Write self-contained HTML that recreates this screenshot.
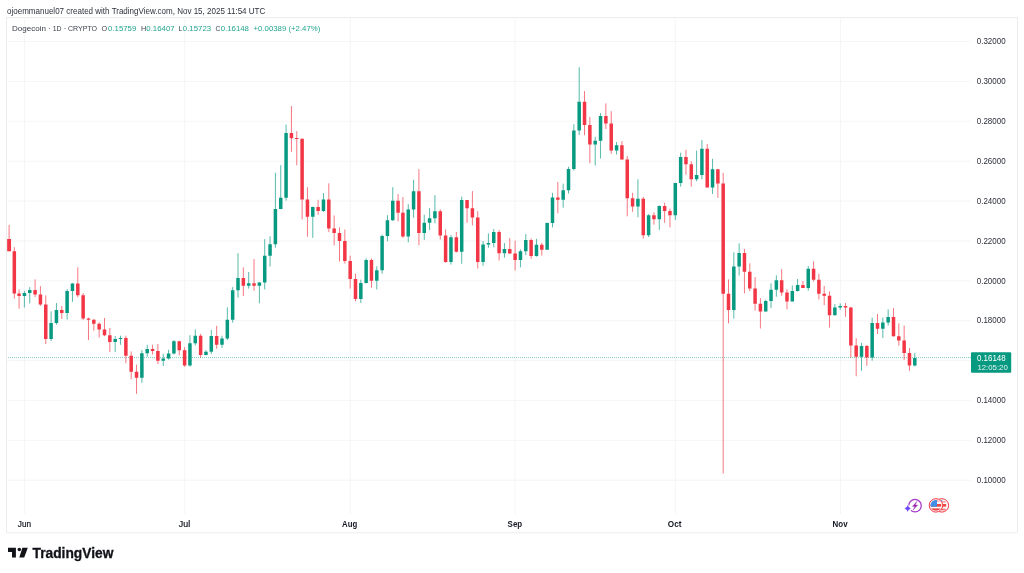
<!DOCTYPE html>
<html lang="en">
<head>
<meta charset="utf-8">
<title>Dogecoin 1D CRYPTO - TradingView</title>
<style>
html,body{margin:0;padding:0;background:#fff;}
body{width:1024px;height:573px;overflow:hidden;position:relative;font-family:'Liberation Sans', sans-serif;}
svg{position:absolute;left:0;top:0;display:block;}
text{font-family:'Liberation Sans', sans-serif;}
.ax{font-size:8.6px;fill:#2a2e39;}
.lg{font-size:7.5px;fill:#3a3e49;}
.lv{font-size:7.5px;fill:#089981;fill-opacity:0.9;}
.mo{font-size:8.3px;fill:#131722;stroke:#131722;stroke-width:0.2px;}
.mb{font-size:8.4px;fill:#131722;font-weight:bold;}
</style>
</head>
<body>
<svg width="1024" height="573" viewBox="0 0 1024 573">
<rect x="0" y="0" width="1024" height="573" fill="#ffffff"/>
<text x="7" y="13.7" font-size="8.2" fill="#2e323d" textLength="258.3" lengthAdjust="spacingAndGlyphs">ojoemmanuel07 created with TradingView.com, Nov 15, 2025 11:54 UTC</text>
<rect x="6.5" y="17.6" width="1011" height="515.2" fill="#ffffff" stroke="#ebebed" stroke-width="0.9"/>
<path d="M7 41.55H970.5M7 81.43H970.5M7 121.31H970.5M7 161.19H970.5M7 201.07H970.5M7 240.95H970.5M7 280.83H970.5M7 320.71H970.5M7 360.59H970.5M7 400.47H970.5M7 440.35H970.5M7 480.23H970.5M24.4 18V514M184.7 18V514M350.3 18V514M515 18V514M675.3 18V514M840.5 18V514" stroke="#f0f1f3" stroke-width="0.75" fill="none"/>
<path d="M8 357.6H971" stroke="#089981" stroke-width="1" stroke-dasharray="1 1" opacity="0.52" fill="none"/>
<path d="M24.4 290.9V307.5M29.74 287.1V303.4M51.1 311.4V340.9M56.44 303V324.7M67.12 289V319.6M72.46 283.1V301.9M115.18 336V351.9M120.52 335.7V344.8M141.88 350.1V382.8M147.22 344.8V356.9M163.24 353.8V366M168.58 349.8V359.6M173.92 340.1V354.5M189.94 335.2V366.6M195.28 329.4V345.4M205.96 350.1V355.3M211.31 330V354.1M221.99 335.7V347.9M227.33 307.3V340.1M232.67 287.1V322.7M238.01 253.2V297.6M248.7 272V288.6M259.38 281.9V303.4M264.72 239.1V289.4M270.06 236.2V266.5M275.4 172.8V247.7M280.74 165.2V209.2M286.08 124.5V200.6M312.79 206.6V237.8M323.47 193.2V212.1M360.83 279.6V303M366.15 258.3V283.4M376.79 266.3V289.4M382.11 234.7V273.7M387.44 215.1V241.3M392.76 187.2V221M408.25 204.2V242.3M413.58 179.8V217.8M424.25 214.7V239.9M429.58 208.1V230M434.91 195.2V223.3M450.97 235V264.6M461.7 196.6V263.8M483.08 241V265.8M488.42 233.4V247.8M493.76 229V247.3M504.44 243.1V257.7M520.45 249.4V267.4M525.79 234.1V255.2M536.47 238.8V256.7M547.15 222.4V249.7M552.49 192.8V227.4M563.17 183.6V207.7M568.51 166.8V193.5M573.85 124.2V170.5M579.19 67.2V135M595.21 136.8V165.5M600.55 113.1V158.5M616.57 142V154.5M637.93 179.3V217.3M648.61 214.1V237.1M659.29 205.4V229.9M675.31 182.8V220M680.65 152.7V186.7M696.6 150.6V181.3M701.91 139.9V179.3M712.55 158.8V194M733.82 252.3V318.6M739.14 243.3V275.5M765.72 299.7V311.5M771.04 283.4V308M776.36 275.3V296.7M792.31 285.5V301.4M797.62 279V291.5M808.26 266.1V290.7M834.86 304.1V315.4M840.19 303.3V309.8M861.51 342.9V370.8M872.17 317.5V360.6M882.83 317.5V337.9M888.16 309.3V325.6M914.81 352.9V366.5" stroke="#089981" stroke-width="0.68" fill="none"/>
<path d="M9.1 224.9V251.4M14.33 247.2V298.6M19.07 289.5V308.7M35.08 279.4V297M40.42 286.2V305.9M45.76 295.4V344.1M61.78 305.9V318.9M77.8 267.3V297.3M83.14 293.2V320M88.48 317.7V340.1M93.82 319.2V330.7M99.16 322.4V337.6M104.5 318V336.2M109.84 328V352M125.86 335.7V363.2M131.2 351.4V379.3M136.54 364.7V393.8M152.56 344.7V354.5M157.9 344V364M179.26 340.7V355.3M184.6 347.2V366.8M200.62 333.8V357.7M216.65 325.9V348.7M243.35 267.4V296M254.04 259V290.8M291.43 106V151.8M296.77 131.1V165.2M302.11 138.6V219.5M307.45 187.3V236.7M318.13 199.8V214.7M328.82 183.3V232M334.16 215.5V245.4M339.5 227.3V261.5M344.84 229.5V263.6M350.18 255.6V288.5M355.5 273.6V301.3M371.47 258.5V287.8M398.08 194V221.4M402.91 197.1V237.9M418.91 169.2V245.1M440.25 209.3V239.6M445.61 229.5V262.7M456.34 232V252.5M467.06 199.9V222.7M472.4 191.1V225.4M477.74 211.2V268.5M499.1 230V260.5M509.77 238.1V253.8M515.11 240.7V270.6M531.13 238.4V258.8M541.81 242.8V255.6M557.83 182V213.3M584.53 91.1V135.2M589.87 117V163.2M605.89 103.4V129M611.23 111.2V153.8M621.91 141.1V159.7M627.25 156.1V216.4M632.59 192.8V211.8M643.27 197V238.5M653.95 212.3V224.7M664.63 202.7V222.8M669.97 208.7V227.5M685.96 149.8V174.7M691.28 161.3V186.7M707.23 143.9V187.5M717.87 168.8V197.8M723.18 172.9V473.5M728.5 279.4V323.3M744.45 248.8V293.4M749.77 263.3V291.2M755.09 277.1V310.7M760.4 298.1V328.5M781.67 269.2V295.8M786.99 289.2V309.3M802.94 281V287.9M813.58 261.4V281.6M818.89 273.9V299.4M824.21 286V305.2M829.53 291.4V327.5M845.52 302.9V316.7M850.85 307V357.8M856.18 338.2V376.3M866.84 344.9V365.8M877.5 314V334M893.49 308V336.6M898.82 323.4V345.7M904.15 325.6V359.9M909.48 348.1V370.8" stroke="#f23645" stroke-width="0.68" fill="none"/>
<path d="M22.65 293.1h3.5V296h-3.5zM27.99 290h3.5V293.1h-3.5zM49.35 323.05h3.5V338.9h-3.5zM54.69 309.95h3.5V323.05h-3.5zM65.37 291h3.5V313h-3.5zM70.71 283.5h3.5V291h-3.5zM113.43 338.9h3.5V342h-3.5zM118.77 337.9h3.5V338.9h-3.5zM140.13 353.2h3.5V377.8h-3.5zM145.47 348.9h3.5V353.2h-3.5zM161.49 358.5h3.5V360.8h-3.5zM166.83 353.4h3.5V358.5h-3.5zM172.17 341.35h3.5V353.4h-3.5zM188.19 343.3h3.5V365.5h-3.5zM193.53 335.85h3.5V343.3h-3.5zM204.21 351.65h3.5V354.9h-3.5zM209.56 336h3.5V351.65h-3.5zM220.24 338.45h3.5V344.8h-3.5zM225.58 319.8h3.5V338.45h-3.5zM230.92 290.3h3.5V319.8h-3.5zM236.26 278h3.5V290.3h-3.5zM246.95 283.3h3.5V285.8h-3.5zM257.63 282.45h3.5V285.8h-3.5zM262.97 255.65h3.5V282.45h-3.5zM268.31 244.2h3.5V255.65h-3.5zM273.65 209.05h3.5V244.2h-3.5zM278.99 197.7h3.5V209.05h-3.5zM284.33 133.1h3.5V197.7h-3.5zM311.04 207.05h3.5V216.8h-3.5zM321.72 199.4h3.5V211.1h-3.5zM359.08 283h3.5V299h-3.5zM364.4 259.9h3.5V283h-3.5zM375.04 270.35h3.5V280.7h-3.5zM380.36 236.1h3.5V270.35h-3.5zM385.69 220.3h3.5V236.1h-3.5zM391.01 200.7h3.5V220.3h-3.5zM406.5 209.5h3.5V236.6h-3.5zM411.83 191.3h3.5V209.5h-3.5zM422.5 222.85h3.5V232.9h-3.5zM427.83 218.3h3.5V222.85h-3.5zM433.16 211.2h3.5V218.3h-3.5zM449.22 237.3h3.5V261.9h-3.5zM459.95 199.9h3.5V251.85h-3.5zM481.33 244.4h3.5V261.9h-3.5zM486.67 243.1h3.5V244.4h-3.5zM492.01 232h3.5V243.1h-3.5zM502.69 248.9h3.5V253.3h-3.5zM518.7 251.3h3.5V259.9h-3.5zM524.04 239.9h3.5V251.3h-3.5zM534.72 244.7h3.5V256.05h-3.5zM545.4 222.9h3.5V249.7h-3.5zM550.74 197.4h3.5V222.9h-3.5zM561.42 190.3h3.5V199.8h-3.5zM566.76 169.1h3.5V190.3h-3.5zM572.1 130.4h3.5V169.1h-3.5zM577.44 101.8h3.5V130.4h-3.5zM593.46 140.8h3.5V144.6h-3.5zM598.8 115.9h3.5V140.8h-3.5zM614.82 145.35h3.5V150.6h-3.5zM636.18 198.85h3.5V206.5h-3.5zM646.86 215.35h3.5V235.3h-3.5zM657.54 206h3.5V219.3h-3.5zM673.56 183.05h3.5V215.3h-3.5zM678.9 156.9h3.5V183.05h-3.5zM694.85 175.05h3.5V179.3h-3.5zM700.16 148.7h3.5V175.05h-3.5zM710.8 169.3h3.5V187.4h-3.5zM732.07 266.5h3.5V309.9h-3.5zM737.39 253.1h3.5V266.5h-3.5zM763.97 300.9h3.5V311.5h-3.5zM769.29 289.7h3.5V300.9h-3.5zM774.61 280.2h3.5V289.7h-3.5zM790.56 291.1h3.5V301.4h-3.5zM795.87 285.05h3.5V291.1h-3.5zM806.51 268.8h3.5V287.9h-3.5zM833.11 307.6h3.5V315.3h-3.5zM838.44 305.9h3.5V307.6h-3.5zM859.76 346h3.5V356.7h-3.5zM870.42 323h3.5V357.5h-3.5zM881.08 322.6h3.5V328.8h-3.5zM886.41 317h3.5V322.6h-3.5zM913.06 358h3.5V365.6h-3.5z" fill="#089981"/>
<path d="M7.15 238.9h3.9V251.25h-3.9zM12.58 251.25h3.5V293.45h-3.5zM17.32 293.45h3.5V296h-3.5zM33.33 290h3.5V294.45h-3.5zM38.67 294.45h3.5V304.55h-3.5zM44.01 304.55h3.5V338.9h-3.5zM60.03 309.95h3.5V313h-3.5zM76.05 283.5h3.5V295.2h-3.5zM81.39 295.2h3.5V318.45h-3.5zM86.73 318.45h3.5V319.75h-3.5zM92.07 319.75h3.5V323.75h-3.5zM97.41 323.75h3.5V329.5h-3.5zM102.75 329.5h3.5V335.25h-3.5zM108.09 335.25h3.5V342h-3.5zM124.11 337.9h3.5V355.85h-3.5zM129.45 355.85h3.5V371.65h-3.5zM134.79 371.65h3.5V377.8h-3.5zM150.81 348.9h3.5V351.05h-3.5zM156.15 351.05h3.5V360.8h-3.5zM177.51 341.35h3.5V350.35h-3.5zM182.85 350.35h3.5V365.5h-3.5zM198.87 335.85h3.5V354.9h-3.5zM214.9 336h3.5V344.8h-3.5zM241.6 278h3.5V285.8h-3.5zM252.29 283.3h3.5V285.8h-3.5zM289.68 133.1h3.5V138.25h-3.5zM295.02 138.08h3.5V138.97h-3.5zM300.36 138.8h3.5V199.4h-3.5zM305.7 199.4h3.5V216.8h-3.5zM316.38 207.05h3.5V211.1h-3.5zM327.07 199.4h3.5V228.5h-3.5zM332.41 228.5h3.5V232.95h-3.5zM337.75 232.95h3.5V241.1h-3.5zM343.09 241.1h3.5V261h-3.5zM348.43 261h3.5V278.9h-3.5zM353.75 278.9h3.5V299h-3.5zM369.72 259.9h3.5V280.7h-3.5zM396.33 200.7h3.5V212.8h-3.5zM401.16 212.8h3.5V236.6h-3.5zM417.16 191.3h3.5V232.9h-3.5zM438.5 211.2h3.5V235.6h-3.5zM443.86 235.6h3.5V261.9h-3.5zM454.59 237.3h3.5V251.85h-3.5zM465.31 199.9h3.5V208.25h-3.5zM470.65 208.25h3.5V217.5h-3.5zM475.99 217.5h3.5V261.9h-3.5zM497.35 232h3.5V253.3h-3.5zM508.02 248.9h3.5V253.55h-3.5zM513.36 253.55h3.5V259.9h-3.5zM529.38 239.9h3.5V256.05h-3.5zM540.06 244.7h3.5V249.7h-3.5zM556.08 197.4h3.5V199.8h-3.5zM582.78 101.8h3.5V125h-3.5zM588.12 125h3.5V144.6h-3.5zM604.14 115.9h3.5V123.55h-3.5zM609.48 123.55h3.5V150.6h-3.5zM620.16 145.35h3.5V159.45h-3.5zM625.5 159.45h3.5V198.3h-3.5zM630.84 198.3h3.5V206.5h-3.5zM641.52 198.85h3.5V235.3h-3.5zM652.2 215.35h3.5V219.3h-3.5zM662.88 206h3.5V211h-3.5zM668.22 211h3.5V215.3h-3.5zM684.21 156.9h3.5V164.35h-3.5zM689.53 164.35h3.5V179.3h-3.5zM705.48 148.7h3.5V187.4h-3.5zM716.12 169.3h3.5V183.55h-3.5zM721.43 183.55h3.5V293.65h-3.5zM726.75 293.65h3.5V309.9h-3.5zM742.7 253.1h3.5V271.65h-3.5zM748.02 271.65h3.5V288.45h-3.5zM753.34 288.45h3.5V303.7h-3.5zM758.65 303.7h3.5V311.5h-3.5zM779.92 280.2h3.5V292.55h-3.5zM785.24 292.55h3.5V301.4h-3.5zM801.19 285.05h3.5V287.9h-3.5zM811.83 268.8h3.5V279.75h-3.5zM817.14 279.75h3.5V293.75h-3.5zM822.46 293.75h3.5V295.7h-3.5zM827.78 295.7h3.5V315.3h-3.5zM843.77 305.9h3.5V307.55h-3.5zM849.1 307.55h3.5V345.55h-3.5zM854.43 345.55h3.5V356.7h-3.5zM865.09 346h3.5V357.5h-3.5zM875.75 323h3.5V328.8h-3.5zM891.74 317h3.5V336.3h-3.5zM897.07 336.3h3.5V340.45h-3.5zM902.4 340.45h3.5V353.05h-3.5zM907.73 353.05h3.5V365.6h-3.5z" fill="#f23645"/>
<text x="12" y="31.25" class="lg" textLength="34" lengthAdjust="spacingAndGlyphs">Dogecoin</text>
<text x="49.2" y="31.25" class="lg" text-anchor="middle">·</text>
<text x="52.7" y="31.25" class="lg" textLength="8.8" lengthAdjust="spacingAndGlyphs">1D</text>
<text x="65.1" y="31.25" class="lg" text-anchor="middle">·</text>
<text x="67.9" y="31.25" class="lg" textLength="29.2" lengthAdjust="spacingAndGlyphs">CRYPTO</text>
<text x="101.6" y="31.25" class="lg" textLength="5.6" lengthAdjust="spacingAndGlyphs">O</text>
<text x="108" y="31.25" class="lv" textLength="28.3" lengthAdjust="spacingAndGlyphs">0.15759</text>
<text x="141" y="31.25" class="lg" textLength="5.2" lengthAdjust="spacingAndGlyphs">H</text>
<text x="146.3" y="31.25" class="lv" textLength="28.3" lengthAdjust="spacingAndGlyphs">0.16407</text>
<text x="178.6" y="31.25" class="lg" textLength="3.8" lengthAdjust="spacingAndGlyphs">L</text>
<text x="182.8" y="31.25" class="lv" textLength="28.3" lengthAdjust="spacingAndGlyphs">0.15723</text>
<text x="215.6" y="31.25" class="lg" textLength="4.8" lengthAdjust="spacingAndGlyphs">C</text>
<text x="220.7" y="31.25" class="lv" textLength="28.3" lengthAdjust="spacingAndGlyphs">0.16148</text>
<text x="253.5" y="31.25" class="lv" textLength="66.8" lengthAdjust="spacingAndGlyphs">+0.00389 (+2.47%)</text>
<text x="976.8" y="44.4" class="ax" textLength="28.8" lengthAdjust="spacingAndGlyphs">0.32000</text>
<text x="976.8" y="84.26" class="ax" textLength="28.8" lengthAdjust="spacingAndGlyphs">0.30000</text>
<text x="976.8" y="124.12" class="ax" textLength="28.8" lengthAdjust="spacingAndGlyphs">0.28000</text>
<text x="976.8" y="163.98" class="ax" textLength="28.8" lengthAdjust="spacingAndGlyphs">0.26000</text>
<text x="976.8" y="203.84" class="ax" textLength="28.8" lengthAdjust="spacingAndGlyphs">0.24000</text>
<text x="976.8" y="243.7" class="ax" textLength="28.8" lengthAdjust="spacingAndGlyphs">0.22000</text>
<text x="976.8" y="283.56" class="ax" textLength="28.8" lengthAdjust="spacingAndGlyphs">0.20000</text>
<text x="976.8" y="323.42" class="ax" textLength="28.8" lengthAdjust="spacingAndGlyphs">0.18000</text>
<text x="976.8" y="363.28" class="ax" textLength="28.8" lengthAdjust="spacingAndGlyphs">0.16000</text>
<text x="976.8" y="403.14" class="ax" textLength="28.8" lengthAdjust="spacingAndGlyphs">0.14000</text>
<text x="976.8" y="443" class="ax" textLength="28.8" lengthAdjust="spacingAndGlyphs">0.12000</text>
<text x="976.8" y="482.86" class="ax" textLength="28.8" lengthAdjust="spacingAndGlyphs">0.10000</text>
<text x="17.8" y="526.75" class="mo" textLength="13.3" lengthAdjust="spacingAndGlyphs">Jun</text>
<text x="178.85" y="526.75" class="mo" textLength="11.3" lengthAdjust="spacingAndGlyphs">Jul</text>
<text x="342.05" y="526.75" class="mb" textLength="15.1" lengthAdjust="spacingAndGlyphs">Aug</text>
<text x="507.6" y="526.75" class="mb" textLength="14.6" lengthAdjust="spacingAndGlyphs">Sep</text>
<text x="667.8" y="526.75" class="mb" textLength="13.6" lengthAdjust="spacingAndGlyphs">Oct</text>
<text x="832.6" y="526.75" class="mb" textLength="15" lengthAdjust="spacingAndGlyphs">Nov</text>
<rect x="971" y="352.2" width="40.2" height="20.6" rx="1" fill="#089981"/>
<text x="976.9" y="361.3" font-size="8.4" fill="#ffffff" textLength="28.8" lengthAdjust="spacingAndGlyphs">0.16148</text>
<text x="977.4" y="370.3" font-size="7.6" fill="#ffffff" fill-opacity="0.9" textLength="30.4" lengthAdjust="spacingAndGlyphs">12:05:20</text>
<g id="icon-ai">
<circle cx="915" cy="505.7" r="6.25" fill="#fff" stroke="#a537c5" stroke-width="1.25"/>
<circle cx="908" cy="508.5" r="3.3" fill="#fff"/>
<path d="M917.1 501.3L912.3 506.4L914.9 506.4L912.9 510.2L917.8 505L915.2 505Z" fill="#9c27b0" stroke="#9c27b0" stroke-width="0.3" stroke-linejoin="round"/>
<path d="M907.7 505.1Q908.3 507.8 911 508.4Q908.3 509 907.7 511.7Q907.1 509 904.4 508.4Q907.1 507.8 907.7 505.1Z" fill="#6c47ff"/>
</g>
<g id="icon-us">
<circle cx="941.9" cy="505.4" r="6.7" fill="#fff" stroke="#f23645" stroke-width="1.0"/>
<g fill="#ef4a4a"><rect x="941" y="501.3" width="4.5" height="1.2" opacity="0.7"/><rect x="942.6" y="504" width="3.6" height="2.7"/><rect x="941" y="508.7" width="4.6" height="1.7" opacity="0.8"/></g>
<circle cx="941.8" cy="500.7" r="0.7" fill="#5b8def"/>
<circle cx="935.9" cy="505.4" r="6.7" fill="#fff" stroke="#f23645" stroke-width="1.0"/>
<clipPath id="cf"><circle cx="935.9" cy="505.4" r="5.35"/></clipPath>
<g clip-path="url(#cf)"><rect x="930" y="500" width="12" height="11" fill="#fff"/><g fill="#ee4444"><rect x="930" y="500.2" width="12" height="1.3" opacity="0.75"/><rect x="930" y="504" width="12" height="2.7"/><rect x="930" y="508.4" width="12" height="2.4"/></g><rect x="930" y="500" width="7" height="6.7" fill="#3f8fe6"/></g>
</g>
<g id="tv-logo" fill="#111318">
<path d="M8 547.8H15.9V557.5H12V551.9H8Z"/>
<circle cx="19.3" cy="549.55" r="1.75"/>
<path d="M22.4 547.8H27.8L24.2 557.5H19.3Z"/>
<text x="32.5" y="557.5" font-size="13.8" font-weight="bold" textLength="80.9" lengthAdjust="spacingAndGlyphs" fill="#111318" stroke="#111318" stroke-width="0.3">TradingView</text>
</g>
</svg>
</body>
</html>
